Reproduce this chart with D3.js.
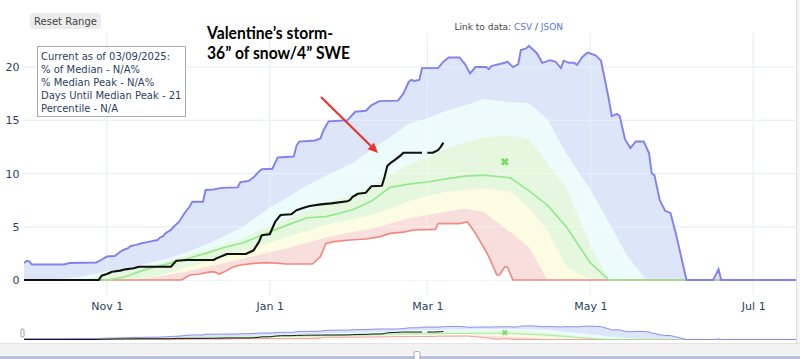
<!DOCTYPE html>
<html><head><meta charset="utf-8">
<script src="https://cdn.jsdelivr.net/npm/d3@7"></script>
<style>
body{margin:0;background:#fff;}
svg{display:block;font-family:"DejaVu Sans",Verdana,sans-serif;}
</style>
</head><body>
<svg id="chart" width="800" height="359"></svg>
<script>
// ---------------- DATA ----------------
const xDomain = ["2024-10-01", "2025-07-17"];
const yDomain = [-1.41, 23.2];
const yTicks = [0, 5, 10, 15, 20];
const xTicks = ["2024-11-01", "2025-01-01", "2025-03-01", "2025-05-01", "2025-07-01"];

// percentile bands (weekly grid)
const pctDates = ["2024-10-01","2024-10-08","2024-10-15","2024-10-22","2024-11-01","2024-11-08","2024-11-15","2024-11-22",
  "2024-12-01","2024-12-08","2024-12-15","2024-12-22","2025-01-01","2025-01-08","2025-01-15","2025-01-22",
  "2025-02-01","2025-02-08","2025-02-15","2025-02-22","2025-03-01","2025-03-08","2025-03-15","2025-03-22",
  "2025-04-01","2025-04-08","2025-04-15","2025-04-22","2025-05-01","2025-05-08","2025-05-15","2025-05-22",
  "2025-06-01","2025-06-08","2025-06-15","2025-06-22","2025-07-01","2025-07-08","2025-07-15"];
const p10 = [0,0,0,0,0,0,0.1,0.4, 0.8,1.2,1.6,2.0, 2.6,3.0,3.5,4.0, 4.5,4.8,5.3,5.8, 6.1,6.4,6.7,6.4, 4.5,3.1,0,0, 0,0,0,0, 0,0,0,0, 0,0,0];
const p30 = [0,0,0,0,0,0,0.1,0.5, 1.2,1.65,2.1,2.7, 3.5,4.1,4.6,5.2, 5.7,6.1,6.7,7.4, 7.9,8.3,8.45,8.6, 8.3,6.8,4.6,1.25, 0,0,0,0, 0,0,0,0, 0,0,0];
const p50 = [0,0,0,0,0,0.3,0.95,1.4, 2.0,2.5,3.05,3.5, 4.5,5.2,5.85,5.95, 6.6,7.4,8.7,9.0, 9.2,9.5,9.75,9.85, 9.6,8.4,7.0,5.0, 1.6,0,0,0, 0,0,0,0, 0,0,0];
const p70 = [0,0,0,0,0.5,0.85,1.25,1.65, 2.3,2.8,3.4,3.9, 5.1,5.8,6.5,7.2, 8.0,8.8,9.9,10.8, 11.5,12.3,12.9,13.4, 13.6,13.2,11.0,8.6, 3.3,0,0,0, 0,0,0,0, 0,0,0];
const p90 = [0,0,0.1,0.3,0.8,1.1,1.5,1.9, 2.6,3.3,4.1,5.0, 6.8,7.8,8.9,9.8, 11.0,12.2,13.4,14.7, 15.2,15.9,16.4,17.0, 16.7,16.6,15.1,11.9, 8.5,5.4,2.2,0, 0,0,0,0, 0,0,0];

// record maximum
const maxDates = ["2024-10-01","2024-10-02","2024-10-03","2024-10-04","2024-10-16","2024-10-18","2024-10-28","2024-10-30",
  "2024-11-01","2024-11-04","2024-11-06","2024-11-07","2024-11-09","2024-11-10","2024-11-12","2024-11-14","2024-11-17",
  "2024-11-20","2024-11-21","2024-11-22","2024-11-23","2024-11-25","2024-11-26","2024-11-28","2024-11-29","2024-11-30",
  "2024-12-02","2024-12-03","2024-12-07","2024-12-08","2024-12-11","2024-12-14","2024-12-20","2024-12-21","2024-12-24",
  "2024-12-26","2024-12-28","2024-12-29","2025-01-02","2025-01-03","2025-01-04","2025-01-10","2025-01-11","2025-01-12",
  "2025-01-18","2025-01-20","2025-01-21","2025-01-23","2025-01-30","2025-02-02","2025-02-06","2025-02-08","2025-02-11",
  "2025-02-18","2025-02-20","2025-02-22","2025-02-23","2025-02-24","2025-02-26","2025-02-27","2025-03-05","2025-03-07",
  "2025-03-09","2025-03-13","2025-03-15","2025-03-17","2025-03-19","2025-03-23","2025-03-24","2025-03-25","2025-03-30",
  "2025-03-31","2025-04-02","2025-04-04","2025-04-05","2025-04-07","2025-04-08","2025-04-11","2025-04-13","2025-04-16",
  "2025-04-18","2025-04-20","2025-04-21","2025-04-23","2025-04-25","2025-04-26","2025-04-28","2025-04-30","2025-05-03",
  "2025-05-05","2025-05-06","2025-05-08","2025-05-09","2025-05-11","2025-05-12","2025-05-14","2025-05-16","2025-05-17",
  "2025-05-18","2025-05-21","2025-05-23","2025-05-24","2025-05-25","2025-05-27","2025-05-29","2025-05-31","2025-06-02",
  "2025-06-06","2025-06-16","2025-06-18","2025-06-19","2025-07-17"];
const maxValues = [1.6,1.8,1.75,1.45,1.45,1.6,1.65,1.9,
  2.2,2.25,2.65,2.8,3.0,3.2,3.3,3.45,3.6,
  3.75,4.0,4.1,4.4,4.7,5.0,5.45,5.85,6.25,
  6.9,7.35,7.35,8.45,8.5,8.65,8.7,9.2,9.3,
  9.65,10.2,10.4,10.45,11.0,11.5,11.6,12.6,13.0,
  13.1,13.3,14.0,14.9,15.0,15.8,15.9,16.4,16.8,
  16.85,17.5,18.6,18.8,18.7,18.8,19.9,19.9,20.5,
  20.9,20.9,20.3,19.4,20.0,20.0,19.8,20.1,20.4,
  20.5,20.0,20.25,21.6,21.75,22.0,21.3,20.4,20.65,
  20.5,19.9,20.6,20.4,20.4,20.2,20.95,21.35,21.1,
  20.6,19.4,16.9,15.4,15.6,15.4,13.2,12.4,12.7,
  13.0,13.0,11.9,10.0,9.85,7.5,6.5,6.3,4.4,
  0,0,1.0,0,0];

// record minimum
const minDates = ["2024-10-01","2024-11-29","2024-12-02","2024-12-06","2024-12-08","2024-12-11","2024-12-13","2024-12-15",
  "2024-12-18","2024-12-21","2024-12-26","2024-12-31","2025-01-05","2025-01-07","2025-01-17","2025-01-20","2025-01-22",
  "2025-01-25","2025-01-31","2025-02-06","2025-02-11","2025-02-15","2025-02-20","2025-02-24","2025-03-04","2025-03-05",
  "2025-03-13","2025-03-16","2025-03-19","2025-03-22","2025-03-24","2025-03-27","2025-03-28","2025-03-30","2025-03-31",
  "2025-04-02","2025-07-17"];
const minValues = [0,0,0.47,0.56,0.69,0.78,0.56,0.78,
  1.19,1.41,1.56,1.63,1.56,1.5,1.5,2.2,3.44,
  3.6,3.76,3.85,4.05,4.38,4.5,4.7,4.75,5.3,
  5.3,5.45,4.4,3.1,2.2,0.47,0.47,1.25,1.2,
  0,0];

// current water year 2025
const curDates = ["2024-10-01","2024-10-29","2024-10-30","2024-11-01","2024-11-03","2024-11-06","2024-11-08","2024-11-11",
  "2024-11-13","2024-11-25","2024-11-27","2024-12-01","2024-12-11","2024-12-12","2024-12-16","2024-12-23","2024-12-26",
  "2024-12-28","2024-12-29","2025-01-01","2025-01-03","2025-01-05","2025-01-09","2025-01-11","2025-01-14","2025-01-16",
  "2025-01-20","2025-01-24","2025-01-30","2025-01-31","2025-02-01","2025-02-03","2025-02-06","2025-02-08","2025-02-12",
  "2025-02-13","2025-02-14","2025-02-15","2025-02-17","2025-02-19","2025-02-20","2025-02-27","2025-02-28","2025-03-01",
  "2025-03-03","2025-03-05","2025-03-06","2025-03-07"];
const curValues = [0,0,0.4,0.56,0.78,0.88,1.0,1.1,
  1.25,1.25,1.8,1.88,1.88,2.03,2.44,2.44,2.8,
  3.6,4.2,4.3,5.45,6.1,6.17,6.55,6.8,6.95,
  7.1,7.2,7.4,7.5,7.8,8.1,8.2,8.8,8.85,
  9.7,10.7,10.95,11.3,11.7,11.95,11.95,null,11.95,
  11.95,12.2,12.5,12.9];

const peakDate = "2025-03-30";
const peakValue = 11.1;

const infoLines = ["Current as of 03/09/2025:", "% of Median - N/A%", "% Median Peak - N/A%",
  "Days Until Median Peak - 21", "Percentile - N/A"];
const noteLines = ["Valentine\u2019s storm-", "36\u201D of snow/4\u201D SWE"];

// ---------------- CHART ----------------
const parse = d3.utcParse("%Y-%m-%d");
const svg = d3.select("#chart");
const plot = {left: 24, right: 796, top: 33, bottom: 295};
const mini = {top: 325, bottom: 340.4};

const x = d3.scaleUtc().domain(xDomain.map(parse)).range([plot.left, plot.right]);
const y = d3.scaleLinear().domain(yDomain).range([plot.bottom, plot.top]);
const yMini = d3.scaleLinear().domain(yDomain).range([mini.bottom, mini.top]);

const pct = pctDates.map((d, i) => ({date: parse(d), p10: p10[i], p30: p30[i], p50: p50[i], p70: p70[i], p90: p90[i]}));
const maxS = maxDates.map((d, i) => ({date: parse(d), v: maxValues[i]}));
const minS = minDates.map((d, i) => ({date: parse(d), v: minValues[i]}));
const curS = curDates.map((d, i) => ({date: parse(d), v: curValues[i]}));

const defs = svg.append("defs");
defs.append("clipPath").attr("id", "clipMain").append("rect")
  .attr("x", plot.left).attr("y", plot.top).attr("width", plot.right - plot.left).attr("height", plot.bottom - plot.top);
defs.append("clipPath").attr("id", "clipMini").append("rect")
  .attr("x", plot.left).attr("y", mini.top - 3).attr("width", plot.right - plot.left).attr("height", mini.bottom - mini.top + 4);

const gridColor = "#dde4f0";

// grid under
const gGrid = svg.append("g");
gGrid.selectAll("line.h").data(yTicks).join("line")
  .attr("x1", plot.left).attr("x2", plot.right)
  .attr("y1", d => y(d)).attr("y2", d => y(d))
  .attr("stroke", gridColor).attr("stroke-width", 1);
gGrid.selectAll("line.v").data(xTicks).join("line")
  .attr("x1", d => x(parse(d))).attr("x2", d => x(parse(d)))
  .attr("y1", plot.top).attr("y2", plot.bottom)
  .attr("stroke", gridColor).attr("stroke-width", 1);

const fills = {max: "#dde6f8", p90: "#ecfbfb", p70: "#e5f8df", p30: "#fcfce3", p10: "#f9dede"};

function drawSeries(g, ys, clipId) {
  const c = g.append("g").attr("clip-path", `url(#${clipId})`);
  const area = (acc) => d3.area().x(d => x(d.date)).y0(ys(0)).y1(d => ys(acc(d)));
  c.append("path").datum(maxS).attr("d", area(d => d.v)).attr("fill", fills.max);
  c.append("path").datum(pct).attr("d", area(d => d.p90)).attr("fill", fills.p90);
  c.append("path").datum(pct).attr("d", area(d => d.p70)).attr("fill", fills.p70);
  c.append("path").datum(pct).attr("d", area(d => d.p30)).attr("fill", fills.p30);
  c.append("path").datum(pct).attr("d", area(d => d.p10)).attr("fill", fills.p10);
  c.append("path").datum(minS).attr("d", area(d => d.v)).attr("fill", "#ffffff");
  return c;
}
function drawLines(c, ys, lw) {
  const line = d3.line().defined(d => d.v != null).x(d => x(d.date)).y(d => ys(d.v));
  c.append("path").datum(minS).attr("d", line).attr("fill", "none").attr("stroke", "#f08a80").attr("stroke-width", lw * 1.1);
  c.append("path").datum(pct.map(d => ({date: d.date, v: d.p50}))).attr("d", line)
    .attr("fill", "none").attr("stroke", "#95e88c").attr("stroke-width", lw * 1.1);
  c.append("path").datum(maxS).attr("d", line).attr("fill", "none").attr("stroke", "#8282ee").attr("stroke-width", lw * 1.3);
  c.append("path").datum(curS).attr("d", line).attr("fill", "none").attr("stroke", "#111").attr("stroke-width", lw * 1.4)
    .attr("stroke-linejoin", "round");
  c.append("path")
    .attr("d", d3.symbol(d3.symbolCross, lw > 1 ? 38 : 20)())
    .attr("transform", `translate(${x(parse(peakDate))},${ys(peakValue)}) rotate(45)`)
    .attr("fill", "#77dd66");
}

drawSeries(svg, y, "clipMain");

// grid overlay (shows through fills like translucent traces)
const gOver = svg.append("g");
gOver.selectAll("line.h").data(yTicks).join("line")
  .attr("x1", plot.left).attr("x2", plot.right)
  .attr("y1", d => y(d)).attr("y2", d => y(d))
  .attr("stroke", "rgba(255,255,255,0.4)").attr("stroke-width", 1);
gOver.selectAll("line.v").data(xTicks).join("line")
  .attr("x1", d => x(parse(d))).attr("x2", d => x(parse(d)))
  .attr("y1", plot.top).attr("y2", plot.bottom)
  .attr("stroke", "rgba(255,255,255,0.4)").attr("stroke-width", 1);

drawLines(svg.append("g").attr("clip-path", "url(#clipMain)"), y, 1.5);

// axes
const xAxis = d3.axisBottom(x).tickValues(xTicks.map(parse)).tickFormat(d3.utcFormat("%b %-d")).tickSize(0).tickPadding(7);
const gx = svg.append("g").attr("transform", `translate(0,${plot.bottom})`).call(xAxis);
gx.select(".domain").remove();
gx.selectAll("text").attr("fill", "#2a3f5f").style("font-size", "11px").style("font-family", "DejaVu Sans");

const yAxis = d3.axisLeft(y).tickValues(yTicks).tickSize(0).tickPadding(4.5);
const gy = svg.append("g").attr("transform", `translate(${plot.left},0)`).call(yAxis);
gy.select(".domain").remove();
gy.selectAll("text").attr("fill", "#2a3f5f").style("font-size", "11px").style("font-family", "DejaVu Sans");

// range slider (mini chart)
drawSeries(svg, yMini, "clipMini");
drawLines(svg.append("g").attr("clip-path", "url(#clipMini)"), yMini, 0.7);
svg.append("rect").attr("x", 21).attr("y", 329).attr("width", 3).attr("height", 8).attr("rx", 1)
  .attr("fill", "#fff").attr("stroke", "#888").attr("stroke-width", 0.8);

// bottom scroll strip
svg.append("rect").attr("x", 0).attr("y", 343).attr("width", 800).attr("height", 12).attr("fill", "#f2f2f2");
svg.append("line").attr("x1", 0).attr("x2", 800).attr("y1", 343.5).attr("y2", 343.5).attr("stroke", "#e4e4e4");
svg.append("rect").attr("x", 0).attr("y", 356).attr("width", 800).attr("height", 3).attr("fill", "#b4c0dd");
svg.append("rect").attr("x", 414).attr("y", 351.5).attr("width", 6).attr("height", 8).attr("rx", 1.5)
  .attr("fill", "#fff").attr("stroke", "#999").attr("stroke-width", 0.8);

// right border
svg.append("rect").attr("x", 797).attr("y", 0).attr("width", 3).attr("height", 343).attr("fill", "#f6f6f6");
svg.append("line").attr("x1", 796.5).attr("x2", 796.5).attr("y1", 0).attr("y2", 343).attr("stroke", "#dcdcdc");

// Reset Range button
svg.append("rect").attr("x", 30).attr("y", 13).attr("width", 71).attr("height", 16).attr("rx", 3).attr("fill", "#ececec");
svg.append("text").attr("x", 65.5).attr("y", 24.5).attr("text-anchor", "middle")
  .style("font-size", "10px").attr("fill", "#444").text("Reset Range");

// link text
const link = svg.append("text").attr("x", 563).attr("y", 29.5).attr("text-anchor", "end").style("font-size", "9px").attr("fill", "#444");
link.append("tspan").text("Link to data: ");
link.append("tspan").attr("fill", "#5a78d8").text("CSV");
link.append("tspan").text(" / ");
link.append("tspan").attr("fill", "#5a78d8").text("JSON");

// info box
svg.append("rect").attr("x", 37.5).attr("y", 46.5).attr("width", 148).attr("height", 70)
  .attr("fill", "#fff").attr("stroke", "#aaa").attr("stroke-width", 1);
svg.append("g").selectAll("text").data(infoLines).join("text")
  .attr("x", 41).attr("y", (d, i) => 60 + i * 13)
  .style("font-size", "10px").attr("fill", "#2a3f5f").text(d => d);

// annotation text
svg.append("g").selectAll("text").data(noteLines).join("text")
  .attr("x", 207).attr("y", (d, i) => 39 + i * 19.5)
  .attr("textLength", (d, i) => i === 0 ? 126 : 143).attr("lengthAdjust", "spacingAndGlyphs")
  .style("font-family", "Lato, 'Open Sans', sans-serif").style("font-weight", "700").style("font-size", "16.5px")
  .attr("fill", "#000").text(d => d);

// red arrow
const ax1 = 321, ay1 = 97, ax2 = 378, ay2 = 153;
const ang = Math.atan2(ay2 - ay1, ax2 - ax1);
const hl = 10, hw = 4.5;
const bx = ax2 - hl * Math.cos(ang), by = ay2 - hl * Math.sin(ang);
svg.append("line").attr("x1", ax1).attr("y1", ay1).attr("x2", bx).attr("y2", by)
  .attr("stroke", "#e8352b").attr("stroke-width", 2.2);
svg.append("path")
  .attr("d", `M${ax2},${ay2} L${bx - hw * Math.sin(ang)},${by + hw * Math.cos(ang)} L${bx + hw * Math.sin(ang)},${by - hw * Math.cos(ang)} Z`)
  .attr("fill", "#e8352b");
</script>
</body></html>
